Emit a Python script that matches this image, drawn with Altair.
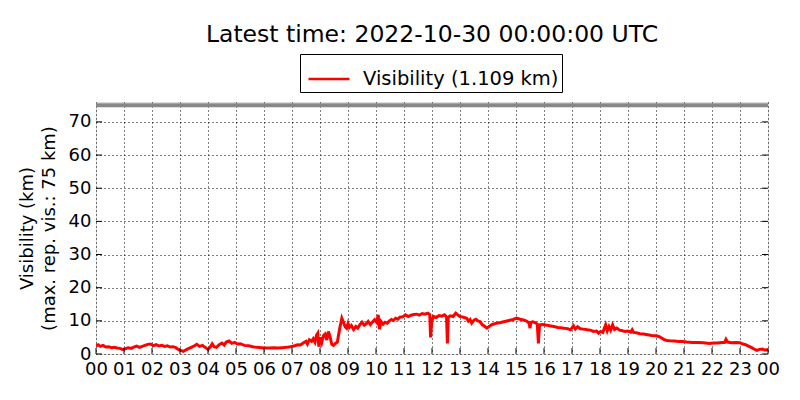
import altair as alt
import pandas as pd

hours = [0.00,0.08,0.15,0.25,0.35,0.45,0.55,0.65,0.75,0.85,0.95,1.05,1.15,1.25,1.35,1.45,1.55,1.65,1.75,1.85,1.95,
         2.05,2.15,2.25,2.35,2.45,2.55,2.65,2.75,2.85,2.95,3.05,3.12,3.2,3.3,3.4,3.5,3.6,3.7,3.8,3.9,
         4.0,4.08,4.15,4.22,4.3,4.4,4.5,4.58,4.65,4.75,4.85,4.95,5.05,5.15,5.3,5.45,5.6,5.75,5.9,
         6.05,6.2,6.35,6.5,6.65,6.8,6.95,7.1,7.2,7.3,7.4,7.5,7.55,7.62,7.7,7.76,7.82,7.88,7.92,7.96,
         8.0,8.06,8.12,8.18,8.24,8.3,8.36,8.42,8.48,8.55,8.62,8.7,8.78,8.84,8.9,8.95,
         9.0,9.05,9.12,9.2,9.28,9.35,9.42,9.5,9.58,9.65,9.72,9.8,9.88,9.95,
         10.02,10.08,10.12,10.18,10.25,10.32,10.4,10.48,10.55,10.62,10.7,10.78,10.85,10.95,
         11.05,11.15,11.25,11.35,11.45,11.55,11.65,11.75,11.85,11.92,11.95,11.99,
         12.05,12.15,12.25,12.35,12.45,12.52,12.55,12.58,12.65,12.75,12.85,12.92,
         13.0,13.08,13.15,13.24,13.3,13.36,13.42,13.5,13.57,13.64,13.71,13.8,13.9,13.96,
         14.05,14.15,14.3,14.45,14.6,14.75,14.9,
         15.02,15.15,15.3,15.4,15.47,15.5,15.53,15.6,15.7,15.76,15.8,15.84,15.95,
         16.1,16.2,16.35,16.5,16.6,16.7,16.85,16.95,
         17.05,17.12,17.2,17.3,17.4,17.55,17.65,17.77,17.88,17.95,
         18.02,18.1,18.2,18.26,18.32,18.38,18.45,18.52,18.6,18.7,18.8,18.9,
         19.0,19.1,19.15,19.2,19.3,19.43,19.55,19.7,19.85,
         20.0,20.1,20.2,20.3,20.4,20.5,20.65,20.8,20.95,
         21.1,21.3,21.5,21.7,21.9,
         22.05,22.2,22.35,22.45,22.5,22.55,22.7,22.85,
         23.0,23.1,23.2,23.3,23.4,23.5,23.6,23.7,23.8,23.88,23.95,24.0]

vis = [2.4,2.8,2.3,2.6,2.1,2.2,1.9,2.0,1.8,1.7,1.4,1.6,1.9,1.7,2.1,2.4,2.0,2.3,2.6,2.9,3.0,
       2.5,2.8,2.4,2.6,2.3,2.5,2.1,2.2,1.9,1.3,1.0,0.8,1.2,1.6,2.0,2.4,2.9,2.3,2.6,2.0,
       1.4,2.1,3.1,2.2,2.0,2.8,3.3,2.7,3.6,3.9,3.2,3.5,3.0,3.1,2.6,2.5,2.2,2.0,1.9,
       1.8,1.8,1.9,1.8,1.9,2.0,2.2,2.5,2.8,2.7,3.3,3.8,3.0,4.3,3.8,4.6,3.6,5.8,6.3,2.2,
       5.0,3.4,5.5,6.0,4.2,6.8,5.2,2.9,2.6,3.2,3.6,7.5,10.8,9.5,8.2,7.8,
       9.2,8.0,8.6,7.4,8.3,7.8,8.8,9.6,8.7,9.1,9.8,8.9,9.7,10.3,
       9.6,11.8,7.5,9.8,9.0,9.6,9.3,10.0,10.4,10.1,10.8,10.5,11.1,11.2,
       11.8,11.3,11.7,11.9,12.0,11.7,12.2,12.0,12.3,11.9,5.0,9.8,
       11.3,11.0,11.6,11.4,11.8,11.2,3.2,11.0,11.5,11.3,12.3,11.8,
       11.3,11.2,11.0,10.8,9.9,10.4,9.3,10.2,10.5,10.0,9.8,8.8,8.2,7.8,
       8.4,8.9,9.3,9.5,9.8,10.1,10.4,
       10.8,10.5,10.2,9.8,9.3,7.8,9.5,9.7,9.4,9.0,3.2,8.8,8.9,
       8.7,8.5,8.3,8.0,7.9,7.8,7.6,7.3,
       8.5,7.5,8.2,7.6,7.5,7.3,7.2,6.8,6.9,6.3,
       6.8,6.5,8.8,7.0,8.3,7.2,8.8,7.4,7.8,7.2,7.0,6.8,
       6.9,6.6,7.3,6.5,6.4,6.1,6.0,5.8,5.6,
       5.5,5.3,4.8,4.3,4.1,4.0,3.9,3.8,3.8,
       3.6,3.5,3.5,3.4,3.2,
       3.3,3.3,3.5,3.5,4.4,3.6,3.4,3.5,
       3.4,3.0,2.8,2.4,2.0,1.5,1.1,1.4,1.5,1.2,1.3,1.1]

series_name = "Visibility (1.109 km)"
title_text = "Latest time: 2022-10-30 00:00:00 UTC"
y_title = ["Visibility (km)", "(max. rep. vis.: 75 km)"]
x_ticks = list(range(0, 25))
y_ticks = [0, 10, 20, 30, 40, 50, 60, 70]
max_vis = 75

df = pd.DataFrame({"hour": hours, "vis": vis, "series": series_name})

FONT = "DejaVu Sans"
xscale = alt.Scale(domain=[0, 24], nice=False, zero=False)
yscale = alt.Scale(domain=[0, 76], nice=False)

x_axis = alt.Axis(
    values=x_ticks, tickCount=25,
    labelExpr="datum.value == 24 ? '00' : (datum.value < 10 ? '0' + datum.value : '' + datum.value)",
    grid=True, gridColor="black", gridDash=[1, 3], gridWidth=1, gridOpacity=1,
    ticks=False, labelPadding=6, labelFontSize=18, labelFont=FONT, labelColor="black",
    labelOverlap=False, domain=False, title=None, labelFlush=False,
)
y_axis = alt.Axis(
    values=y_ticks, tickCount=8,
    grid=True, gridColor="black", gridDash=[1, 3], gridWidth=1, gridOpacity=1,
    ticks=False, labelPadding=5, labelFontSize=18, labelFont=FONT, labelColor="black",
    labelOverlap=False, domain=False, title=y_title, titleFontSize=18, titleFont=FONT,
    titleFontWeight="normal", titleColor="black", titlePadding=10, titleLineHeight=22,
)

X = alt.X("hour:Q", scale=xscale, axis=x_axis)
Y = alt.Y("vis:Q", scale=yscale, axis=y_axis)

line = alt.Chart(df).mark_line(strokeWidth=3, clip=True).encode(
    x=X, y=Y,
    color=alt.Color("series:N", scale=alt.Scale(domain=[series_name], range=["#ff0000"]),
                    legend=alt.Legend(title=None, orient="none", legendX=204, legendY=-48,
                                      symbolType="stroke", symbolSize=1680, symbolStrokeWidth=2.5,
                                      labelFontSize=19.5, labelFont=FONT, labelColor="black",
                                      labelLimit=0, strokeColor="black", padding=3,
                                      symbolOffset=4, labelOffset=12)),
)

maxrule = alt.Chart(pd.DataFrame({"vis": [max_vis]})).mark_rule(color="#888888", strokeWidth=4).encode(
    y=alt.Y("vis:Q", scale=yscale, axis=y_axis)
)

ytick_df = pd.DataFrame({"vis": y_ticks})
yt_left = alt.Chart(ytick_df).mark_rule(color="black", strokeWidth=1).encode(
    y=alt.Y("vis:Q", scale=yscale, axis=y_axis), x=alt.value(0), x2=alt.value(6))
yt_right = alt.Chart(ytick_df).mark_rule(color="black", strokeWidth=1).encode(
    y=alt.Y("vis:Q", scale=yscale, axis=y_axis), x=alt.value(666), x2=alt.value(672))
xtick_df = pd.DataFrame({"hour": x_ticks})
xt_bottom = alt.Chart(xtick_df).mark_rule(color="black", strokeWidth=1).encode(
    x=alt.X("hour:Q", scale=xscale, axis=x_axis), y=alt.value(246), y2=alt.value(252))

chart = alt.layer(line, maxrule, yt_left, yt_right, xt_bottom).properties(
    width=672, height=252,
    title=alt.TitleParams(title_text, fontSize=23.5, font=FONT, fontWeight="normal",
                          color="black", anchor="middle", offset=7),
    autosize=alt.AutoSizeParams(type="none"),
    padding={"left": 88, "top": 94, "right": 24, "bottom": 38},
).configure_view(stroke="black", strokeWidth=1.5).configure(background="white")

chart.save("out.html", embed_options={"renderer": "svg", "actions": False})
